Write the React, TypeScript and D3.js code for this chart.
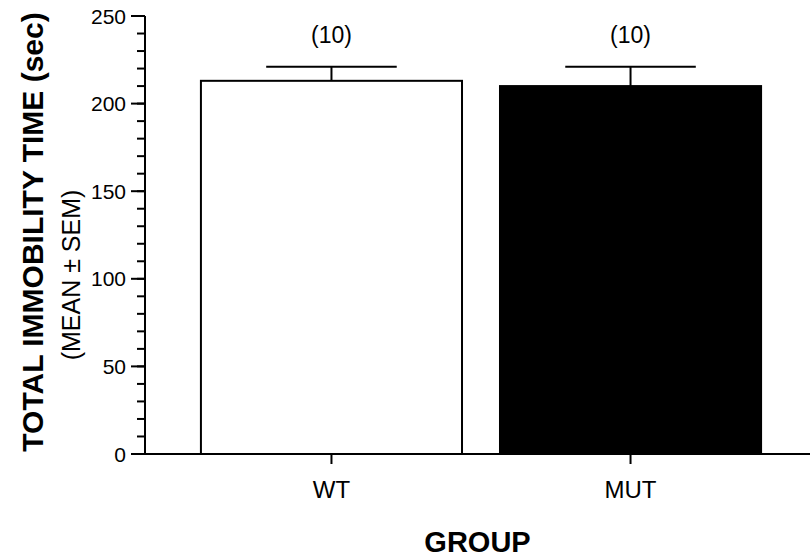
import React from "react";
import * as d3 from "d3";

const categories = ["WT", "MUT"];
const means = [213, 210];
const sems = [8, 11];
const nLabels = ["(10)", "(10)"];
const fills = ["#ffffff", "#000000"];
const yTicks = [0, 50, 100, 150, 200, 250];
const yMinorTicks = d3.range(0, 251, 10);

const W = 810;
const H = 559;
const FONT = "'Liberation Sans', Arial, Helvetica, sans-serif";

export default function App() {
  const x = d3
    .scaleBand<string>()
    .domain(categories)
    .range([145, 817])
    .paddingInner(0.127)
    .paddingOuter(0.187);
  const y = d3.scaleLinear().domain([0, 250]).range([454, 16]);
  const bw = x.bandwidth();
  const axisX = 145;

  return (
    <svg
      width={W}
      height={H}
      style={{ position: "absolute", left: 0, top: 0, background: "#fff" }}
      fontFamily={FONT}
    >
      {/* bars */}
      {categories.map((c, i) => {
        const x0 = x(c)!;
        const cx = x0 + bw / 2;
        const top = y(means[i] + sems[i]);
        return (
          <g key={c}>
            <line x1={cx} x2={cx} y1={y(means[i])} y2={top} stroke="#000" strokeWidth={2} />
            <line x1={cx - bw / 4} x2={cx + bw / 4} y1={top} y2={top} stroke="#000" strokeWidth={2} />
            <rect
              x={x0}
              y={y(means[i])}
              width={bw}
              height={y(0) - y(means[i])}
              fill={fills[i]}
              stroke="#000"
              strokeWidth={2}
            />
            <text x={cx} y={43} textAnchor="middle" fontSize={23}>
              {nLabels[i]}
            </text>
          </g>
        );
      })}

      {/* y axis */}
      <line x1={axisX} x2={axisX} y1={y(250)} y2={y(0)} stroke="#000" strokeWidth={2} />
      {yMinorTicks.map((t) => (
        <line key={"m" + t} x1={axisX - 8} x2={axisX} y1={y(t)} y2={y(t)} stroke="#000" strokeWidth={2} />
      ))}
      {yTicks.map((t) => (
        <g key={t}>
          <line x1={axisX - 14} x2={axisX} y1={y(t)} y2={y(t)} stroke="#000" strokeWidth={2} />
          <text x={126} y={y(t)} dy="0.36em" textAnchor="end" fontSize={21}>
            {t}
          </text>
        </g>
      ))}

      {/* x axis */}
      <line x1={axisX - 1} x2={W} y1={y(0)} y2={y(0)} stroke="#000" strokeWidth={2} />
      {categories.map((c) => {
        const cx = x(c)! + bw / 2;
        return (
          <g key={"xt" + c}>
            <line x1={cx} x2={cx} y1={y(0)} y2={y(0) + 10} stroke="#000" strokeWidth={2} />
            <text x={cx} y={498} textAnchor="middle" fontSize={24}>
              {c}
            </text>
          </g>
        );
      })}

      {/* axis titles */}
      <text
        transform={`translate(43,232) rotate(-90)`}
        textAnchor="middle"
        fontSize={30}
        fontWeight="bold"
      >
        TOTAL IMMOBILITY TIME (sec)
      </text>
      <text
        transform={`translate(80,275) rotate(-90)`}
        textAnchor="middle"
        fontSize={25}
      >
        (MEAN ± SEM)
      </text>
      <text x={(axisX + W) / 2} y={552} textAnchor="middle" fontSize={29} fontWeight="bold">
        GROUP
      </text>
    </svg>
  );
}
